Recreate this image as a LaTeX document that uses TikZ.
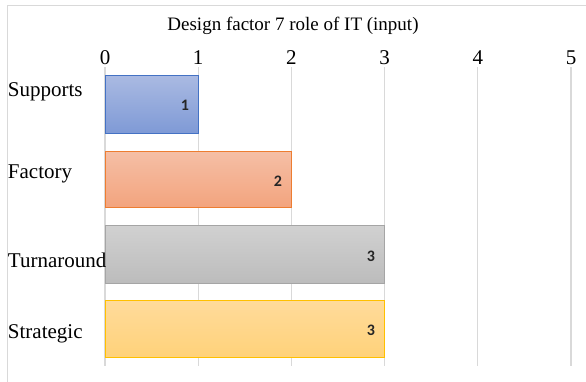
\documentclass[tikz,border=0pt]{standalone}
\usepackage{fontspec}
\setmainfont{Liberation Serif}
\newfontfamily\valfont{Carlito}
\definecolor{gridgray}{RGB}{217,217,217}
\tikzset{
  gridline/.style={draw=gridgray, line width=1.2},
  ticklabel/.style={anchor=base, inner sep=0.75pt, font=\fontsize{21}{24}\selectfont},
  catlabel/.style={anchor=base west, inner sep=0.75pt, font=\fontsize{21}{24}\selectfont},
  vallabel/.style={anchor=base, inner sep=0.75pt, font=\valfont\bfseries\fontsize{16}{18}\selectfont, color={rgb, 255:red, 38; green, 38; blue, 38}},
}
\begin{document}
\begin{tikzpicture}[x=1pt,y=1pt,yscale=-1,xscale=1]
\useasboundingbox (0,0) rectangle (586,381);

%Frame
\draw [color=gridgray, line width=1.2] (7.5,395) -- (7.5,5.5) -- (600,5.5) ;

%Grid lines
\foreach \i in {0,...,5}
  \draw [gridline] (105+93.2*\i,67) -- (105+93.2*\i,366) ;

%Bars
\draw [draw={rgb, 255:red, 68; green, 114; blue, 196 }, top color={rgb, 255:red, 170; green, 186; blue, 226 }, bottom color={rgb, 255:red, 127; green, 154; blue, 214 }, line width=1] (105,75) rectangle (198.2,133) ;
\draw [draw={rgb, 255:red, 237; green, 125; blue, 49 }, top color={rgb, 255:red, 245; green, 191; blue, 166 }, bottom color={rgb, 255:red, 243; green, 164; blue, 126 }, line width=1] (105,151) rectangle (291.4,207) ;
\draw [draw={rgb, 255:red, 165; green, 165; blue, 165 }, top color={rgb, 255:red, 209; green, 209; blue, 209 }, bottom color={rgb, 255:red, 188; green, 188; blue, 188 }, line width=1] (105,225) rectangle (384.6,283) ;
\draw [draw={rgb, 255:red, 255; green, 192; blue, 0 }, top color={rgb, 255:red, 255; green, 219; blue, 155 }, bottom color={rgb, 255:red, 255; green, 210; blue, 122 }, line width=1] (105,300) rectangle (384.6,357) ;

% Title
\draw (293,30) node [anchor=base, inner sep=0.75pt, font=\fontsize{19}{22}\selectfont] (title) {Design factor 7 role of IT (input)};

% Tick labels
\draw (105,64) node [ticklabel] (t0) {0};
\draw (198.2,64) node [ticklabel] (t1) {1};
\draw (291.4,64) node [ticklabel] (t2) {2};
\draw (384.6,64) node [ticklabel] (t3) {3};
\draw (477.8,64) node [ticklabel] (t4) {4};
\draw (571,64) node [ticklabel] (t5) {5};

% Category labels
\draw (7,96.5) node [catlabel] (supports) {Supports};
\draw (7,178) node [catlabel] (factory) {Factory};
\draw (7,267) node [catlabel] (turnaround) {Turnaround};
\draw (7,338) node [catlabel] (strategic) {Strategic};

% Value labels
\draw (185,110) node [vallabel] (v1) {1};
\draw (278,186) node [vallabel] (v2) {2};
\draw (371,261) node [vallabel] (v3) {3};
\draw (371,335.5) node [vallabel] (v4) {3};

\end{tikzpicture}
\end{document}
